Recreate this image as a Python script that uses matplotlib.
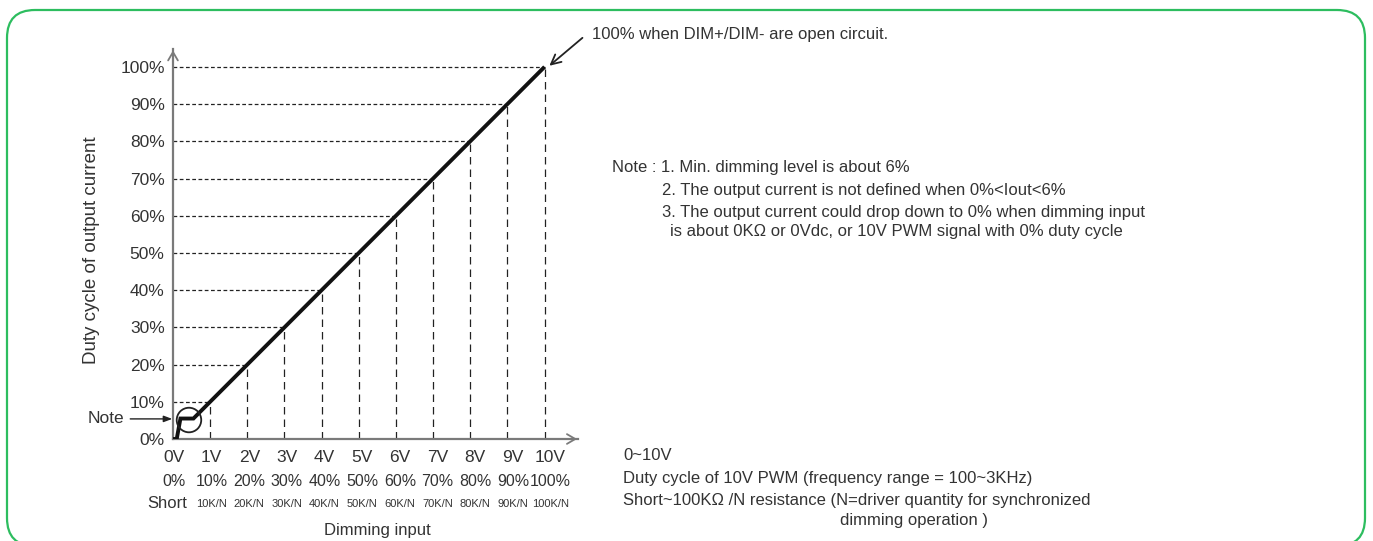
import numpy as np
import matplotlib
matplotlib.use('Agg')
import matplotlib.pyplot as plt
from matplotlib.patches import Ellipse, FancyBboxPatch
from matplotlib.transforms import IdentityTransform

plt.rcParams['font.family'] = ['Liberation Sans', 'DejaVu Sans']

# dimming input axis
volts = list(range(11))
volt_labels = ['0V', '1V', '2V', '3V', '4V', '5V', '6V', '7V', '8V', '9V', '10V']
pwm_labels = ['0%', '10%', '20%', '30%', '40%', '50%', '60%', '70%', '80%', '90%', '100%']
res_labels = ['Short', '10K/N', '20K/N', '30K/N', '40K/N', '50K/N', '60K/N',
              '70K/N', '80K/N', '90K/N', '100K/N']

# duty cycle axis
duty_ticks = [0, 10, 20, 30, 40, 50, 60, 70, 80, 90, 100]
duty_labels = ['0%', '10%', '20%', '30%', '40%', '50%', '60%', '70%', '80%', '90%', '100%']

# dimming curve (V, % duty)
curve_v = [0.0, 0.1, 0.2, 0.55, 10.0]
curve_duty = [0.0, 0.0, 5.5, 5.5, 100.0]

note_lines = [
    'Note : 1. Min. dimming level is about 6%',
    '2. The output current is not defined when 0%<Iout<6%',
    '3. The output current could drop down to 0% when dimming input',
    'is about 0K\u03a9 or 0Vdc, or 10V PWM signal with 0% duty cycle',
]
input_lines = [
    '0~10V',
    'Duty cycle of 10V PWM (frequency range = 100~3KHz)',
    'Short~100K\u03a9 /N resistance (N=driver quantity for synchronized',
    'dimming operation )',
]

W, H = 1373, 541
fig = plt.figure(figsize=(W / 100, H / 100), dpi=100)
ax = fig.add_axes([173 / W, 1 - 439 / H, (578 - 173) / W, (439 - 49) / H])
ax.set_xlim(0, 10.9)
ax.set_ylim(0, 104.8)

txt = '#333333'
axc = '#7a7a7a'

for s in ['top', 'right']:
    ax.spines[s].set_visible(False)
for s in ['left', 'bottom']:
    ax.spines[s].set_color(axc)
    ax.spines[s].set_linewidth(1.6)

# open arrow heads on axes
ax.annotate('', xy=(10.95, 0), xytext=(10.5, 0), xycoords='data',
            arrowprops=dict(arrowstyle='->,head_length=0.6,head_width=0.35',
                            color=axc, lw=1.3), annotation_clip=False)
ax.annotate('', xy=(0, 105.2), xytext=(0, 100), xycoords='data',
            arrowprops=dict(arrowstyle='->,head_length=0.6,head_width=0.35',
                            color=axc, lw=1.3), annotation_clip=False)

ax.set_yticks(duty_ticks, duty_labels)
ax.set_xticks([])
ax.tick_params(axis='y', length=0, pad=6, labelsize=12.5, labelcolor=txt)

# guide lines
for d in duty_ticks[1:]:
    xe = np.interp(d, curve_duty[2:], curve_v[2:])
    ax.plot([0, xe], [d, d], color='#222222', lw=0.9, ls=(0, (3, 2)))
for v in volts[1:]:
    ye = np.interp(v, curve_v[2:], curve_duty[2:])
    ax.plot([v, v], [0, ye], color='#222222', lw=0.9, ls=(0, (6, 4)))

ax.plot(curve_v, curve_duty, color='#111111', lw=2.8, solid_capstyle='butt',
        solid_joinstyle='miter', zorder=5)
ax.add_patch(Ellipse((0.43, 5.1), 0.66, 6.6, fill=False, ec='#222222', lw=1.3, zorder=6))

# x labels, three rows
for v, a, b, c in zip(volts, volt_labels, pwm_labels, res_labels):
    dx = 1 + 0.5 * v
    ax.annotate(a, xy=(v, 0), xycoords=('data', 'axes fraction'), xytext=(dx, -19),
                textcoords='offset pixels', ha='center', va='center', fontsize=12.5, color=txt)
    ax.annotate(b, xy=(v, 0), xycoords=('data', 'axes fraction'), xytext=(dx, -42),
                textcoords='offset pixels', ha='center', va='center', fontsize=11.5, color=txt)
    if v == 0:
        ax.annotate(c, xy=(v, 0), xycoords=('data', 'axes fraction'), xytext=(-6, -65),
                    textcoords='offset pixels', ha='center', va='center', fontsize=12, color=txt)
    else:
        ax.annotate(c, xy=(v, 0), xycoords=('data', 'axes fraction'), xytext=(dx, -65),
                    textcoords='offset pixels', ha='center', va='center', fontsize=8, color=txt)

ax.annotate('Dimming input', xy=(5.5, 0), xycoords=('data', 'axes fraction'), xytext=(0, -91),
            textcoords='offset pixels', ha='center', va='center', fontsize=12, color=txt)
fig.text(92 / W, 1 - 250 / H, 'Duty cycle of output current', rotation=90,
         ha='center', va='center', fontsize=13.5, color=txt)

# "Note" pointer
ax.annotate('Note', xy=(-0.02, 5.4), xytext=(-1.3, 5.4), ha='right', va='center',
            fontsize=12.5, color=txt, annotation_clip=False,
            arrowprops=dict(arrowstyle='-|>,head_length=0.4,head_width=0.15',
                            color='#222222', lw=1.0, shrinkA=2, shrinkB=0))

# open circuit annotation
ax.annotate('', xy=(10.13, 100.3), xytext=(11.02, 107.8), annotation_clip=False,
            arrowprops=dict(arrowstyle='->,head_length=0.7,head_width=0.35',
                            color='#222222', lw=1.3, shrinkA=0, shrinkB=0))
fig.text(592 / W, 1 - 34 / H, '100% when DIM+/DIM- are open circuit.',
         ha='left', va='center', fontsize=12, color=txt)

# note block
note_pos = [(612, 168), (662, 190), (662, 212), (670, 231)]
for s, (px, py) in zip(note_lines, note_pos):
    fig.text(px / W, 1 - py / H, s, ha='left', va='center', fontsize=12, color=txt)

input_pos = [(623, 455), (623, 479), (623, 500), (840, 520)]
for s, (px, py) in zip(input_lines, input_pos):
    fig.text(px / W, 1 - py / H, s, ha='left', va='center', fontsize=12, color=txt)

# green rounded frame
frame = FancyBboxPatch((7, -5), 1358, 536, boxstyle='round,pad=0,rounding_size=28',
                       transform=IdentityTransform(), fill=False, ec='#2dbd5f', lw=1.6)
fig.add_artist(frame)

fig.savefig('out.png', dpi=100)
